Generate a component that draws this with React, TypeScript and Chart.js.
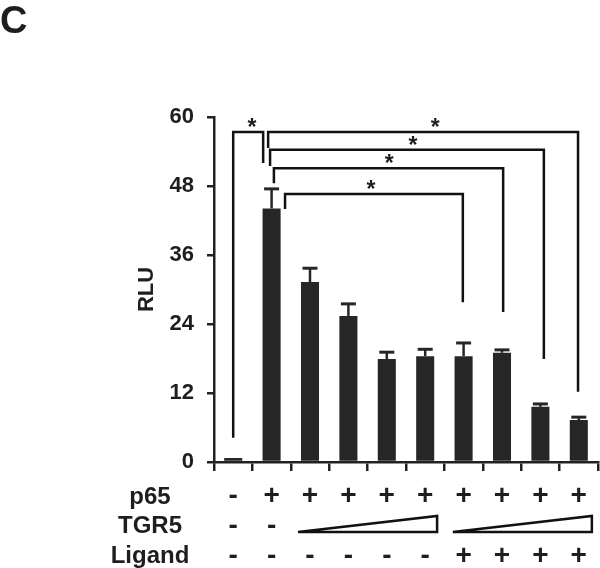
import React, { useEffect, useRef } from "react";
import { Chart, registerables } from "chart.js";

Chart.register(...registerables);

// ---- data ----
const categories = ["1", "2", "3", "4", "5", "6", "7", "8", "9", "10"];
const rluValues = [0.7, 44.1, 31.3, 25.4, 17.9, 18.4, 18.4, 19.0, 9.6, 7.3];
const rluErrors = [0, 3.4, 2.4, 2.1, 1.2, 1.2, 2.3, 0.5, 0.5, 0.5];
const yMin = 0;
const yMax = 60;
const yStep = 12;
const rowLabels = ["p65", "TGR5", "Ligand"];
const p65Row = ["-", "+", "+", "+", "+", "+", "+", "+", "+", "+"];
const tgr5Row = ["-", "-", "", "", "", "", "", "", "", ""];
const ligandRow = ["-", "-", "-", "-", "-", "-", "+", "+", "+", "+"];
// TGR5 increasing-dose wedges: [start category, end category]
const tgr5Wedges: [number, number][] = [
  [1.69, 5.31],
  [5.72, 9.34],
];
// significance brackets: [x start, x end, top value, left leg end, right leg end, star x]
const brackets: [number, number, number, number, number, number][] = [
  [0, 0.78, 57.4, 4.2, 52.0, 0.49],
  [0.91, 8.98, 57.4, 54.6, 12.2, 5.26],
  [0.96, 8.09, 54.3, 51.5, 17.9, 4.68],
  [1.06, 7.03, 51.1, 48.5, 26.1, 4.06],
  [1.35, 5.98, 46.6, 44.0, 27.8, 3.59],
];
const panelLabel = "C";
const yTitle = "RLU";

const FONT = "'Liberation Sans', Arial, sans-serif";
const INK = "#1e1e1e";
const BAR = "#262626";

const overlayPlugin = {
  id: "overlay",
  afterDraw(chart: any) {
    const ctx = chart.ctx;
    const xs = chart.scales.x;
    const ys = chart.scales.y;
    const area = chart.chartArea;
    const meta = chart.getDatasetMeta(0);
    ctx.save();

    // error bars
    ctx.strokeStyle = BAR;
    rluValues.forEach((v, i) => {
      const e = rluErrors[i];
      if (!e) return;
      const x = meta.data[i].x;
      const y0 = ys.getPixelForValue(v);
      const y1 = ys.getPixelForValue(v + e);
      ctx.lineWidth = 2.5;
      ctx.beginPath();
      ctx.moveTo(x, y0);
      ctx.lineTo(x, y1);
      ctx.stroke();
      ctx.lineWidth = 3;
      ctx.beginPath();
      ctx.moveTo(x - 7.5, y1);
      ctx.lineTo(x + 7.5, y1);
      ctx.stroke();
    });

    // brackets and stars
    ctx.strokeStyle = "#111";
    ctx.lineWidth = 2.5;
    ctx.lineJoin = "miter";
    ctx.fillStyle = INK;
    ctx.font = `bold 23px ${FONT}`;
    ctx.textAlign = "center";
    ctx.textBaseline = "alphabetic";
    brackets.forEach(([a, b, top, le, re, sx]) => {
      const x1 = xs.getPixelForValue(a);
      const x2 = xs.getPixelForValue(b);
      const yt = ys.getPixelForValue(top);
      ctx.beginPath();
      ctx.moveTo(x1, ys.getPixelForValue(le));
      ctx.lineTo(x1, yt);
      ctx.lineTo(x2, yt);
      ctx.lineTo(x2, ys.getPixelForValue(re));
      ctx.stroke();
      ctx.fillText("*", xs.getPixelForValue(sx), yt + 3);
    });

    // condition rows
    const base = area.bottom;
    const labelBaselines = [42, 71, 101];
    const symBaselines = [42, 72, 102];
    ctx.font = `bold 24px ${FONT}`;
    ctx.textAlign = "center";
    rowLabels.forEach((t, r) => {
      ctx.fillText(t, 150, base + labelBaselines[r]);
    });
    ctx.font = `bold 28px ${FONT}`;
    [p65Row, tgr5Row, ligandRow].forEach((row, r) => {
      row.forEach((s, i) => {
        if (!s) return;
        ctx.fillText(s, xs.getPixelForValue(i), base + symBaselines[r]);
      });
    });

    // wedges
    ctx.lineWidth = 2.5;
    ctx.strokeStyle = "#111";
    ctx.fillStyle = "#fff";
    tgr5Wedges.forEach(([a, b]) => {
      const x1 = xs.getPixelForValue(a);
      const x2 = xs.getPixelForValue(b);
      const yb = base + 70;
      const yt = base + 54;
      ctx.beginPath();
      ctx.moveTo(x1, yb);
      ctx.lineTo(x2, yt);
      ctx.lineTo(x2, yb);
      ctx.closePath();
      ctx.fill();
      ctx.stroke();
    });

    // panel label
    ctx.fillStyle = INK;
    ctx.font = `bold 38px ${FONT}`;
    ctx.textAlign = "left";
    ctx.fillText(panelLabel, 0, 33);

    ctx.restore();
  },
};

export default function App() {
  const ref = useRef<HTMLCanvasElement>(null);
  useEffect(() => {
    if (!ref.current) return;
    const chart = new Chart(ref.current, {
      type: "bar",
      data: {
        labels: categories,
        datasets: [
          {
            data: rluValues,
            backgroundColor: BAR,
            borderWidth: 0,
            barPercentage: 0.47,
            categoryPercentage: 1,
          },
        ],
      },
      options: {
        responsive: false,
        animation: false,
        devicePixelRatio: 1,
        layout: { padding: { top: 117, right: 2, bottom: 0, left: 0 } },
        plugins: {
          legend: { display: false },
          tooltip: { enabled: false },
        },
        scales: {
          x: {
            type: "category",
            offset: true,
            grid: {
              offset: true,
              drawOnChartArea: false,
              drawTicks: true,
              tickLength: 9,
              color: "#222",
              lineWidth: 2.5,
            },
            border: { display: true, color: "#222", width: 2.5 },
            ticks: { display: false },
            afterFit: (s: any) => {
              s.height = 106;
            },
          },
          y: {
            min: yMin,
            max: yMax,
            ticks: {
              stepSize: yStep,
              color: INK,
              font: { family: FONT, size: 22, weight: "bold" },
              padding: 13,
            },
            grid: {
              drawOnChartArea: false,
              drawTicks: true,
              tickLength: 7,
              color: "#222",
              lineWidth: 2.5,
            },
            border: { display: true, color: "#222", width: 2.5 },
            title: {
              display: true,
              text: yTitle,
              color: INK,
              font: { family: FONT, size: 22, weight: "bold" },
              padding: { top: 134, bottom: 0 },
            },
            afterFit: (s: any) => {
              s.width = 214;
            },
          },
        },
      },
      plugins: [overlayPlugin],
    });
    return () => chart.destroy();
  }, []);
  return (
    <canvas
      ref={ref}
      width={600}
      height={568}
      style={{ position: "absolute", left: 0, top: 0, width: 600, height: 568, background: "#fff" }}
    />
  );
}
